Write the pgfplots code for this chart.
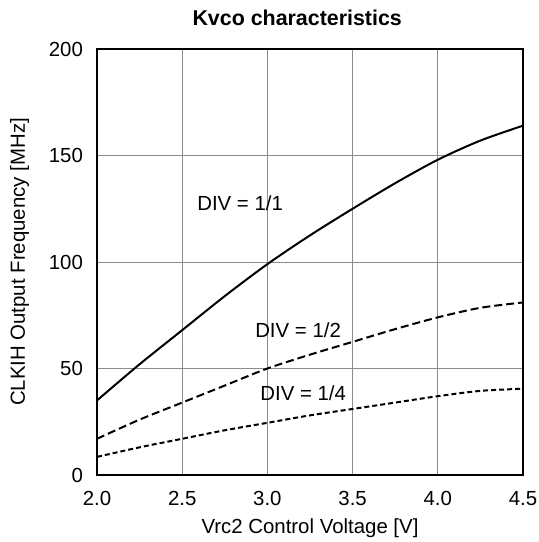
\documentclass[border=0pt]{standalone}
\usepackage{fontspec}
\setmainfont{Liberation Sans}
\usepackage{pgfplots}
\pgfplotsset{compat=1.18}

\begin{document}
\begin{tikzpicture}
\begin{axis}[
    scale only axis,
    width=213pt, height=213pt,
    xmin=2.0, xmax=4.5,
    ymin=0, ymax=200,
    xtick={2.0,2.5,...,4.5},
    ytick={0,50,100,150,200},
    xticklabel style={yshift=-4.5pt, /pgf/number format/.cd, fixed, fixed zerofill, precision=1},
    yticklabel style={xshift=-3.5pt},
    /pgf/number format/assume math mode=true,
    tick style={draw=none},
    grid=major,
    major grid style={gray!90, line width=0.5pt},
    axis line style={black, line width=0.7pt},
    font=\fontsize{10.2pt}{12pt}\selectfont,
    title={\bfseries Kvco characteristics},
    title style={font=\fontsize{10.7pt}{12pt}\selectfont, at={(0.47,1)}, yshift=2pt},
    xlabel={Vrc2 Control Voltage [V]},
    ylabel={CLKIH Output Frequency [MHz]},
    xlabel style={yshift=0.5pt},
    ylabel style={yshift=3pt},
]
\addplot[black, line width=1pt, smooth] coordinates {
    (2.0,35) (2.25,52) (2.5,68) (2.75,84) (3.0,99) (3.25,112.5)
    (3.5,125) (3.75,137) (4.0,148) (4.25,157) (4.5,164)
};
\addplot[black, line width=1pt, smooth, dash pattern=on 4pt off 2pt] coordinates {
    (2.0,17) (2.25,26) (2.5,34) (2.75,42) (3.0,50) (3.25,56.5)
    (3.5,62.5) (3.75,68.5) (4.0,74) (4.25,78.5) (4.5,81)
};
\addplot[black, line width=1pt, smooth, dash pattern=on 2.5pt off 1.5pt] coordinates {
    (2.0,8.5) (2.25,13) (2.5,17) (2.75,21) (3.0,24.5) (3.25,28)
    (3.5,31) (3.75,34) (4.0,37) (4.25,39.5) (4.5,40.5)
};
\node at (axis cs:2.84,127.7) {DIV = 1/1};
\node at (axis cs:3.18,68) {DIV = 1/2};
\node at (axis cs:3.21,38.5) {DIV = 1/4};
\end{axis}
\pgfresetboundingbox
\path[use as bounding box] (-48.5pt,-33.5pt) rectangle (221pt,237.5pt);
\end{tikzpicture}
\end{document}
